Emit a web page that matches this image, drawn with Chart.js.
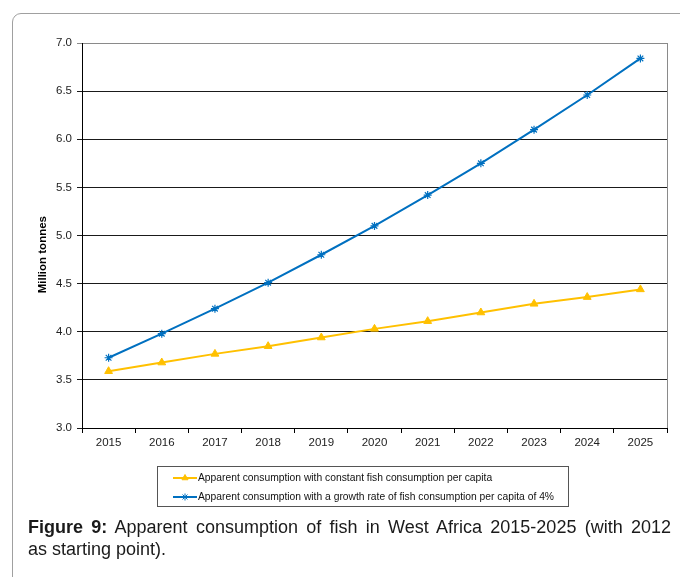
<!DOCTYPE html>
<html>
<head>
<meta charset="utf-8">
<script src="https://cdn.jsdelivr.net/npm/chart.js"></script>
<style>
  html, body { margin: 0; padding: 0; background: #fff; overflow: hidden; }
  body { width: 680px; height: 577px; position: relative; font-family: "Liberation Sans", Arial, sans-serif; }
  #frame { position: absolute; left: 12px; top: 13px; width: 720px; height: 620px; border: 1px solid #a0a0a0; border-radius: 9px; box-sizing: border-box; }
  #wrap { position: absolute; left: 0; top: 0; width: 680px; height: 577px; }
  #caption { position: absolute; left: 28px; top: 516px; width: 643px; font-size: 18px; line-height: 22px; color: #1a1a1a; }
  #caption .l1 { text-align: justify; text-align-last: justify; white-space: nowrap; }
  #caption .l2 { white-space: nowrap; }
</style>
</head>
<body>
<div id="frame"></div>
<div id="wrap"><canvas id="c" width="680" height="577"></canvas></div>
<div id="caption"><div class="l1"><b>Figure 9:</b> Apparent consumption of fish in West Africa 2015-2025 (with 2012</div><div class="l2">as starting point).</div></div>
<script>
const years = ['2015','2016','2017','2018','2019','2020','2021','2022','2023','2024','2025'];
const constantPerCapita = [3.59, 3.68, 3.77, 3.85, 3.94, 4.03, 4.11, 4.20, 4.29, 4.36, 4.44];
const growthPerCapita4 = [3.73, 3.98, 4.24, 4.51, 4.80, 5.10, 5.42, 5.75, 6.10, 6.46, 6.84];
const yMin = 3.0, yMax = 7.0, yStep = 0.5;
const seriesLabels = [
  'Apparent consumption with constant fish consumption per capita',
  'Apparent consumption with a growth rate of fish consumption per capita of 4%'
];
const yTitle = 'Million tonnes';

const FONT = '"Liberation Sans", Arial, sans-serif';

const boxLegend = {
  id: 'boxLegend',
  afterDraw(chart) {
    const ctx = chart.ctx;
    const a = chart.chartArea;
    ctx.save();
    // right plot border (gray)
    ctx.strokeStyle = '#8a8a8a';
    ctx.lineWidth = 1;
    ctx.beginPath();
    ctx.moveTo(a.right + 0.5, a.top);
    ctx.lineTo(a.right + 0.5, a.bottom);
    ctx.stroke();
    // legend box
    ctx.strokeStyle = '#555';
    ctx.strokeRect(157.5, 466.5, 411, 40);
    chart.data.datasets.forEach((ds, i) => {
      const y = 478 + i * 19;
      ctx.strokeStyle = ds.borderColor;
      ctx.lineWidth = 2;
      ctx.beginPath();
      ctx.moveTo(173, y);
      ctx.lineTo(197, y);
      ctx.stroke();
      ctx.fillStyle = ds.pointBackgroundColor;
      ctx.strokeStyle = ds.pointBorderColor;
      ctx.lineWidth = 1;
      Chart.helpers.drawPoint(ctx, { pointStyle: ds.pointStyle, rotation: 0, radius: 3.5, borderWidth: 1 }, 185, y);
      ctx.fillStyle = '#111';
      ctx.font = '10.3px ' + FONT;
      ctx.textBaseline = 'middle';
      ctx.textAlign = 'left';
      ctx.fillText(ds.label, 198, y + 0.5);
    });
    ctx.restore();
  }
};

new Chart(document.getElementById('c'), {
  type: 'line',
  data: {
    labels: years,
    datasets: [
      {
        label: seriesLabels[0],
        data: constantPerCapita,
        borderColor: '#FFC000',
        backgroundColor: '#FFC000',
        pointBackgroundColor: '#FFC000',
        pointBorderColor: '#FFC000',
        pointStyle: 'triangle',
        pointRadius: 4.5,
        pointBorderWidth: 1,
        borderWidth: 2,
        tension: 0
      },
      {
        label: seriesLabels[1],
        data: growthPerCapita4,
        borderColor: '#0070C0',
        backgroundColor: '#0070C0',
        pointBackgroundColor: '#0070C0',
        pointBorderColor: '#0070C0',
        pointStyle: 'star',
        pointRadius: 4,
        pointBorderWidth: 1.2,
        borderWidth: 2,
        tension: 0
      }
    ]
  },
  options: {
    responsive: false,
    animation: false,
    devicePixelRatio: 1,
    layout: { padding: { top: 43, right: 13, bottom: 117, left: 0 } },
    plugins: { legend: { display: false }, tooltip: { enabled: false } },
    scales: {
      x: {
        type: 'category',
        offset: true,
        grid: { display: true, drawOnChartArea: false, drawTicks: true, tickLength: 5, offset: true, color: '#000' },
        border: { display: true, color: '#000', width: 1 },
        ticks: { color: '#222', font: { family: FONT, size: 11.5 }, padding: 3, maxRotation: 0, autoSkip: false },
        afterFit(s) { s.height = 32; }
      },
      y: {
        min: yMin,
        max: yMax,
        grid: {
          color: (c) => (c.tick && c.tick.value === yMax ? '#8a8a8a' : '#1a1a1a'),
          lineWidth: 1,
          tickLength: 5,
          drawTicks: true
        },
        border: { display: true, color: '#000', width: 1 },
        ticks: {
          stepSize: yStep,
          color: '#222',
          font: { family: FONT, size: 11.5 },
          padding: 5,
          callback: (v) => Number(v).toFixed(1)
        },
        title: {
          display: true,
          text: yTitle + '            ',
          color: '#000',
          font: { family: FONT, size: 11.5, weight: 'bold' },
          padding: { top: 36, bottom: 0 }
        },
        afterFit(s) { s.width = 82; }
      }
    }
  },
  plugins: [boxLegend]
});
</script>
</body>
</html>
